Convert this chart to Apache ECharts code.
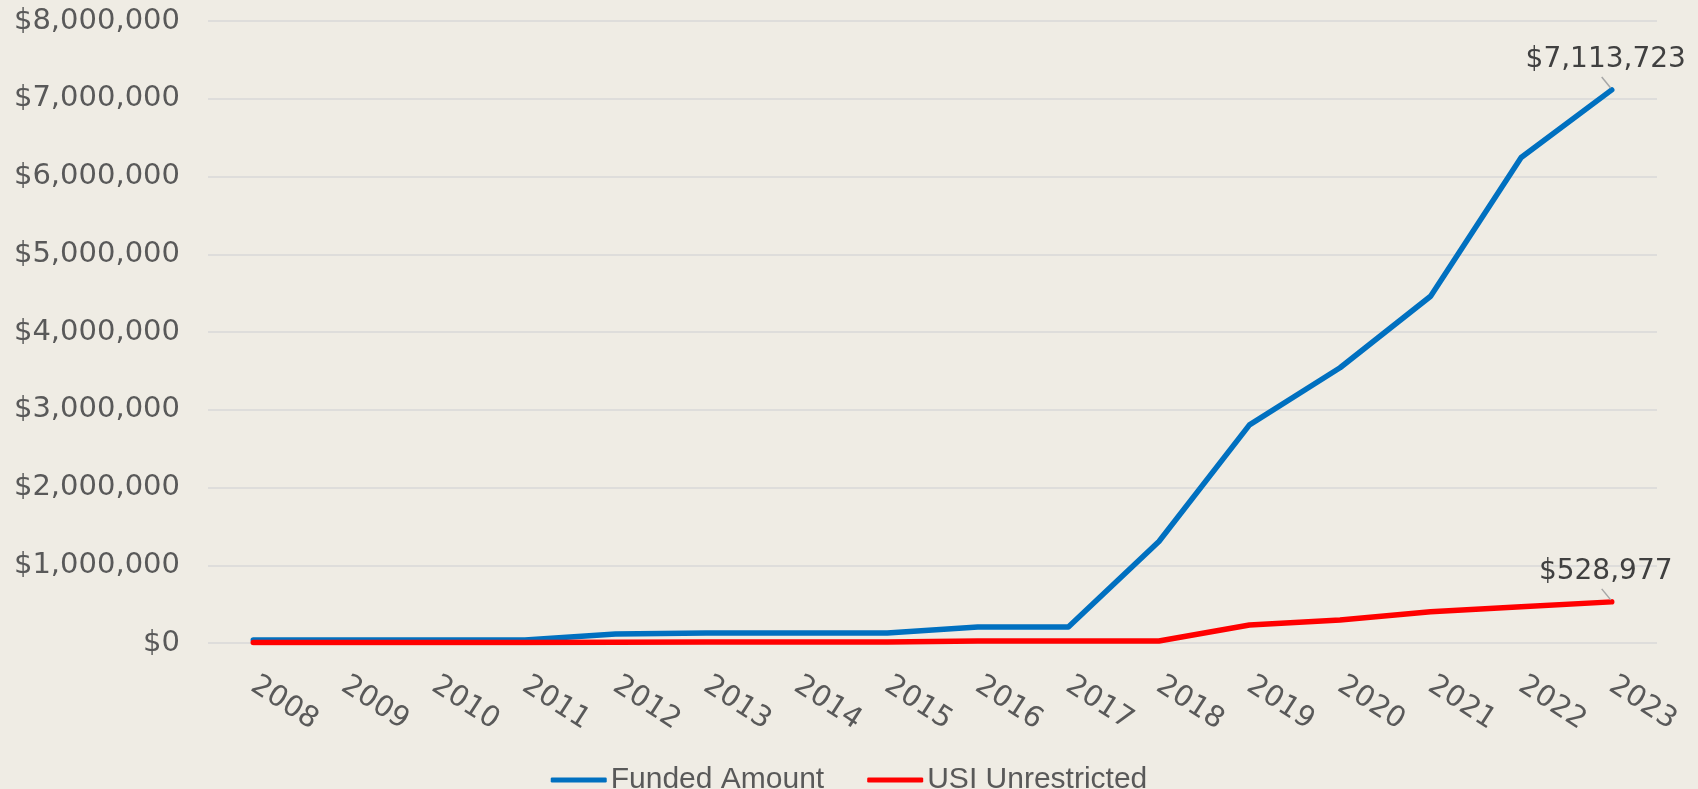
<!DOCTYPE html>
<html>
<head>
<meta charset="utf-8">
<script src="https://cdn.jsdelivr.net/npm/echarts@6/dist/echarts.min.js"></script>
<style>
html,body{margin:0;padding:0;background:#EFECE4;}
#chart{width:1698px;height:789px;}
</style>
</head>
<body>
<div id="chart"></div>
<script>
const years = ['2008','2009','2010','2011','2012','2013','2014','2015','2016','2017','2018','2019','2020','2021','2022','2023'];
const fundedAmount = [40000, 40000, 40000, 40000, 115000, 130000, 130000, 130000, 205000, 205000, 1305000, 2805000, 3540000, 4460000, 6245000, 7113723];
const usiUnrestricted = [5000, 5000, 5000, 5000, 10000, 12000, 12000, 12000, 25000, 25000, 25000, 232000, 296000, 403000, 467000, 528977];
const yTicks = { min: 0, max: 8000000, interval: 1000000 };

function money(v){ return '$' + Math.round(v).toLocaleString('en-US'); }

function withEndLabel(arr){
  return arr.map((v, i) => i === arr.length - 1
    ? { value: v, label: { show: true } }
    : v);
}

const chart = echarts.init(document.getElementById('chart'), null, { renderer: 'canvas' });

const labelCfg = {
  show: false,
  position: 'top',
  distance: 15,
  offset: [-6, 0],
  fontFamily: 'DejaVu Sans',
  fontSize: 28,
  color: '#404040',
  formatter: p => money(p.value)
};

chart.setOption({
  backgroundColor: '#EFECE4',
  animation: false,
  grid: { left: 208, right: 41, top: 21, bottom: 146, containLabel: false },
  legend: {
    top: 760,
    left: 'center',
    icon: 'roundRect',
    itemWidth: 56,
    itemHeight: 5,
    itemGap: 43,
    textStyle: { fontFamily: 'Liberation Sans', fontSize: 30, color: '#595959', padding: [0,0,0,-1] },
    data: ['Funded Amount', 'USI Unrestricted']
  },
  xAxis: {
    type: 'category',
    data: years,
    boundaryGap: true,
    axisLine: { show: false },
    axisTick: { show: false },
    axisLabel: {
      rotate: -33,
      margin: 40,
      interval: 0,
      fontFamily: 'DejaVu Sans',
      fontSize: 29,
      color: '#595959'
    },
    splitLine: { show: false }
  },
  yAxis: {
    type: 'value',
    min: yTicks.min,
    max: yTicks.max,
    interval: yTicks.interval,
    axisLine: { show: false },
    axisTick: { show: false },
    axisLabel: {
      margin: 28,
      fontFamily: 'DejaVu Sans',
      fontSize: 29,
      color: '#595959',
      formatter: v => money(v)
    },
    splitLine: { show: true, lineStyle: { color: '#D9D9D9', width: 1.5 } }
  },
  series: [
    {
      name: 'Funded Amount',
      type: 'line',
      data: withEndLabel(fundedAmount),
      symbol: 'circle',
      symbolSize: 2,
      showSymbol: true,
      itemStyle: { color: '#0070C0' },
      lineStyle: { color: '#0070C0', width: 5.5, cap: 'round', join: 'round' },
      label: labelCfg,
      z: 3
    },
    {
      name: 'USI Unrestricted',
      type: 'line',
      data: withEndLabel(usiUnrestricted),
      symbol: 'circle',
      symbolSize: 2,
      showSymbol: true,
      itemStyle: { color: '#FF0000' },
      lineStyle: { color: '#FF0000', width: 5.5, cap: 'round', join: 'round' },
      label: labelCfg,
      z: 4
    }
  ]
});

// leader lines from each end label to its point, positioned through the chart's own scales
const last = years.length - 1;
const leaders = [fundedAmount, usiUnrestricted].map((arr, i) => {
  const p = chart.convertToPixel({ seriesIndex: i }, [last, arr[last]]);
  return {
    type: 'line',
    z: 10,
    shape: { x1: p[0] - 10, y1: p[1] - 13, x2: p[0] - 1, y2: p[1] - 2 },
    style: { stroke: '#A6A6A6', lineWidth: 1.5 }
  };
});
chart.setOption({ graphic: leaders });
</script>
</body>
</html>
